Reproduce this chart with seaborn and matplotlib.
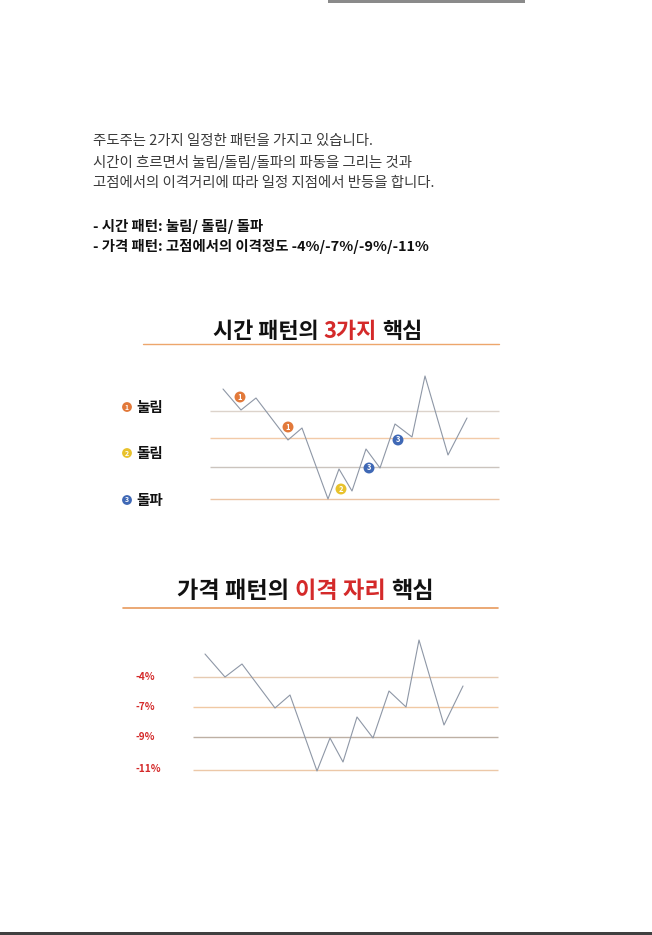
import seaborn as sns
import pandas as pd
import matplotlib.pyplot as plt
from matplotlib.lines import Line2D
from matplotlib.patches import Rectangle

W, H = 652, 935

intro_lines = [
    "주도주는 2가지 일정한 패턴을 가지고 있습니다.",
    "시간이 흐르면서 눌림/돌림/돌파의 파동을 그리는 것과",
    "고점에서의 이격거리에 따라 일정 지점에서 반등을 합니다.",
]
bold_lines = [
    "- 시간 패턴: 눌림/ 돌림/ 돌파",
    "- 가격 패턴: 고점에서의 이격정도 -4%/-7%/-9%/-11%",
]

# chart 1: time pattern
time_t = [1.3, 3.1, 4.6, 7.8, 9.2, 11.8, 12.9, 14.2, 15.6, 17.0, 18.5, 20.2, 21.5, 23.8, 25.7]
price_t = [12.1, 10.0, 11.2, 7.0, 8.2, 1.1, 4.1, 1.9, 6.1, 4.2, 8.6, 7.3, 13.4, 5.5, 9.2]
levels_t = [9.9, 7.2, 4.3, 1.1]
sig_time = [3.0, 7.8, 13.1, 15.9, 18.8]
sig_price = [11.3, 8.3, 2.1, 4.2, 7.0]
sig_kind = ["1", "1", "2", "3", "3"]
legend_kind = ["1", "2", "3"]
legend_names = ["눌림", "돌림", "돌파"]
legend_y = [10.3, 5.7, 1.0]

# chart 2: price pattern
time_p = [1.2, 3.2, 4.9, 8.2, 9.7, 12.4, 13.7, 15.0, 16.4, 18.0, 19.6, 21.3, 22.6, 25.1, 27.0]
price_p = [12.6, 10.3, 11.6, 7.2, 8.5, 0.9, 4.2, 1.8, 6.3, 4.2, 8.9, 7.3, 14.0, 5.5, 9.4]
levels_p = [10.3, 7.3, 4.3, 1.0]
level_labels_p = ["-4%", "-7%", "-9%", "-11%"]

KR = ["Noto Sans CJK KR", "DejaVu Sans"]
sns.set_style("white")
plt.rcParams["font.family"] = KR

kind_colors = {"1": "#e2793a", "2": "#e8c22c", "3": "#3f68b5"}
line_col = "#8e97a6"
red = "#d42a2a"


def px_axes(fig, x0, y0, x1, y1):
    ax = fig.add_axes([x0 / W, 1 - y1 / H, (x1 - x0) / W, (y1 - y0) / H])
    ax.set_axis_off()
    return ax


def mixed_title(fig, parts, xc, yc, size):
    r = fig.canvas.get_renderer()
    a = fig.text(0, 0, "가가", fontsize=size, weight="bold")
    b = fig.text(0, 0, "가 가", fontsize=size, weight="bold")
    sp = b.get_window_extent(r).width - a.get_window_extent(r).width
    a.remove()
    b.remove()
    texts = []
    widths = []
    for s, c in parts:
        t = fig.text(0, yc, s, fontsize=size, weight="bold", color=c, va="center")
        texts.append(t)
        widths.append(t.get_window_extent(r).width)
    total = sum(widths) + sp * (len(parts) - 1)
    x = xc - total / 2
    for t, w in zip(texts, widths):
        t.set_x(x / W)
        x += w + sp


fig = plt.figure(figsize=(W / 100, H / 100), dpi=100)

# page decorations
fig.add_artist(Rectangle((328 / W, 1 - 3 / H), 197 / W, 3 / H, color="#8a8a8a", lw=0))
fig.add_artist(Rectangle((0, 0), 1, 3 / H, color="#404040", lw=0))

# intro text
for y, s in zip([140.5, 163, 183], intro_lines):
    fig.text(92.5 / W, 1 - y / H, s, fontsize=10.4, color="#3a3a3a", va="center")
for y, s in zip([226, 246], bold_lines):
    fig.text(92.5 / W, 1 - y / H, s, fontsize=10.4, color="#111111", weight="bold", va="center")

# chart 1
ax1 = px_axes(fig, 100, 360, 510, 515)
ax1.set_xlim(-11, 30)
ax1.set_ylim(-0.5, 15)
ax1.hlines(levels_t, 0, 28.9, colors=["#dcd3cb", "#f2caa8", "#cbc4be", "#ebc4a4"], lw=1)
sns.lineplot(x=time_t, y=price_t, sort=False, color=line_col, lw=0.8, ax=ax1)
sig = pd.DataFrame({"t": sig_time, "p": sig_price, "k": sig_kind})
sns.scatterplot(data=sig, x="t", y="p", hue="k", palette=kind_colors, s=62,
                edgecolor="none", legend=False, ax=ax1, zorder=3)
for t, p, k in zip(sig_time, sig_price, sig_kind):
    ax1.text(t, p, k, color="white", fontsize=5.5, weight="bold", ha="center", va="center", zorder=4)
leg = pd.DataFrame({"t": [-8.3] * 3, "p": legend_y, "k": legend_kind})
sns.scatterplot(data=leg, x="t", y="p", hue="k", palette=kind_colors, s=50,
                edgecolor="none", legend=False, ax=ax1, zorder=3)
for p, k, n in zip(legend_y, legend_kind, legend_names):
    ax1.text(-8.3, p, k, color="white", fontsize=5, weight="bold", ha="center", va="center", zorder=4)
    ax1.text(-7.4, p, n, color="#111111", fontsize=10.5, weight="bold", ha="left", va="center")

mixed_title(fig, [("시간 패턴의", "#111111"), ("3가지", red), ("핵심", "#111111")],
            317.5, 1 - 331 / H, 15.8)
fig.add_artist(Line2D([143 / W, 499 / W], [1 - 344 / H] * 2, color="#eda66c", lw=1))

# chart 2
ax2 = px_axes(fig, 130, 630, 510, 785)
ax2.set_xlim(-6.3, 31.7)
ax2.set_ylim(-0.5, 15)
ax2.hlines(levels_p, 0, 30.5, colors=["#e6cbb2", "#f0c9a4", "#bdb0a4", "#ecc8a8"], lw=1)
sns.lineplot(x=time_p, y=price_p, sort=False, color=line_col, lw=0.8, ax=ax2)
for p, lab in zip(levels_p, level_labels_p):
    ax2.text(-5.7, p + 0.05, lab, color=red, fontsize=7.3, weight="bold", ha="left", va="center")

mixed_title(fig, [("가격 패턴의", "#111111"), ("이격 자리", red), ("핵심", "#111111")],
            305.5, 1 - 591 / H, 16.7)
fig.add_artist(Line2D([123 / W, 498 / W], [1 - 607.5 / H] * 2, color="#e89a5c", lw=1.2))

fig.savefig("out.png", dpi=100)
